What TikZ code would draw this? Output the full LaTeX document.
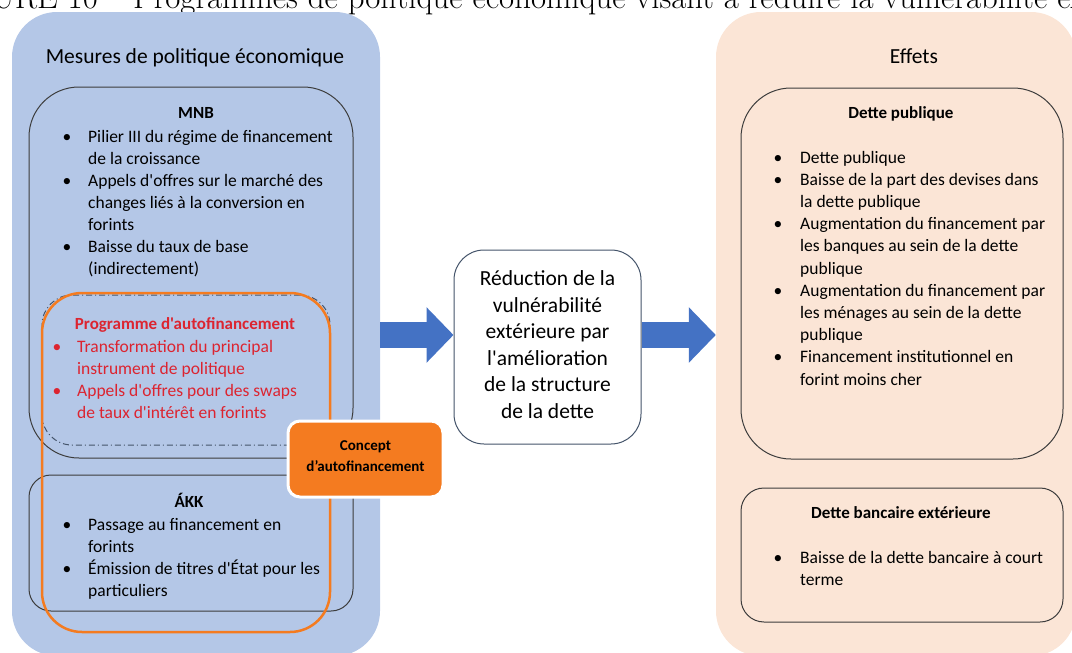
\documentclass[tikz,border=0pt]{standalone}
\usepackage{fontspec}
\newfontfamily\calib{Carlito}
\usetikzlibrary{arrows.meta}
\definecolor{bleuclair}{HTML}{B4C7E7}
\definecolor{peche}{HTML}{FBE5D6}
\definecolor{orangevif}{HTML}{F47B20}
\definecolor{rougetxt}{HTML}{DC2430}
\definecolor{bleufleche}{HTML}{4472C4}
\definecolor{ardoise}{HTML}{44546A}
\definecolor{cadre}{HTML}{3C3C3C}
\begin{document}
\begin{tikzpicture}[x=1pt,y=-1pt,
    panneau/.style={inner sep=0pt,rounded corners=45pt},
    cadrenoir/.style={draw=cadre,line width=1pt,inner sep=0pt},
    txt/.style={inner sep=0pt,font=\calib\fontsize{17.5}{22.2}\selectfont},
    item/.style={txt,anchor=base west,align=left},
    puce/.style={txt,anchor=base},
    entete/.style={txt,anchor=base,font=\calib\bfseries\fontsize{17}{22.2}\selectfont},
    grosse/.style={line width=26pt,draw=bleufleche,-{Triangle[width=54pt,length=27pt]}}]
                \useasboundingbox (0,0) rectangle (1072,653) ;
                \clip (0,0) rectangle (1072,653) ;
                % legende coupee en haut
                \node[anchor=base west,inner sep=0pt,font=\fontsize{32.8}{34}\selectfont] (legende) at (133,9) {Programmes de politique économique visant à réduire la vulnérabilité extérieure} ;
                \node[anchor=base east,inner sep=0pt,font=\fontsize{32.8}{34}\selectfont] (numero) at ([xshift=-10pt]legende.base west) {FIGURE 10 –} ;
                % les deux panneaux
                \node[panneau,fill=bleuclair,minimum width=368pt,minimum height=644pt] (mesures) at (196,334) {} ;
                \node[panneau,fill=peche,minimum width=360pt,minimum height=644pt] (effets) at (896,334) {} ;
                \node[txt,anchor=base,font=\calib\fontsize{21.5}{26}\selectfont] (titreg) at (195,63) {Mesures de politique économique} ;
                \node[txt,anchor=base,font=\calib\fontsize{21.5}{26}\selectfont] (titred) at (914,63) {Effets} ;
                % cadres de gauche
                \node[cadrenoir,rounded corners=50pt,minimum width=324pt,minimum height=371pt] (mnb) at (191,272.5) {} ;
                \node[draw=ardoise,line width=1pt,dash pattern=on 6pt off 3pt on 1pt off 3pt,rounded corners=30pt,inner sep=0pt,minimum width=288pt,minimum height=150pt] (autoprog) at (186,370) {} ;
                \node[cadrenoir,rounded corners=22pt,minimum width=324pt,minimum height=136pt] (akk) at (191,543) {} ;
                \node[draw=orangevif,line width=2.5pt,rounded corners=40pt,inner sep=0pt,minimum width=288pt,minimum height=339pt] (tour) at (186,462.5) {} ;
                \node[draw=white,line width=3pt,fill=orangevif,rounded corners=12pt,minimum width=155pt,minimum height=76pt,align=center,inner sep=0pt,font=\calib\bfseries\fontsize{15}{21}\selectfont] (concept) at (365.5,459) {} ;
                \node[anchor=base,align=center,inner sep=0pt,font=\calib\bfseries\fontsize{15}{21}\selectfont] (tconcept) at (365.5,471) {Concept\\d’autofinancement} ;
                % MNB
                \node[entete] (tmnb) at (196,118) {MNB} ;
                \node[puce] (pm1) at (67,142) {\textbullet} ;
                \node[item] (im1) at (88,164.2) {Pilier III du régime de financement\\de la croissance} ;
                \node[puce] (pm2) at (67,186) {\textbullet} ;
                \node[item] (im2) at (88,230.4) {Appels d'offres sur le marché des\\changes liés à la conversion en\\forints} ;
                \node[puce] (pm3) at (67,252) {\textbullet} ;
                \node[item] (im3) at (88,274.2) {Baisse du taux de base\\(indirectement)} ;
                % programme
                \node[entete,text=rougetxt] (tprog) at (185,329) {Programme d'autofinancement} ;
                \node[puce,text=rougetxt] (pp1) at (57,352) {\textbullet} ;
                \node[item,text=rougetxt] (ip1) at (77,374.2) {Transformation du principal\\instrument de politique} ;
                \node[puce,text=rougetxt] (pp2) at (57,396) {\textbullet} ;
                \node[item,text=rougetxt] (ip2) at (77,418.2) {Appels d'offres pour des swaps\\de taux d'intérêt en forints} ;
                % AKK
                \node[entete] (takk) at (189,507) {ÁKK} ;
                \node[puce] (pa1) at (67,530) {\textbullet} ;
                \node[item] (ia1) at (88,552.2) {Passage au financement en\\forints} ;
                \node[puce] (pa2) at (67,574) {\textbullet} ;
                \node[item] (ia2) at (88,596.2) {Émission de titres d'État pour les\\particuliers} ;
                % milieu
                \node[draw=ardoise,fill=white,line width=1pt,rounded corners=30pt,minimum width=187pt,minimum height=194pt,inner sep=0pt] (reduction) at (547.5,347) {} ;
                \node[txt,anchor=base,align=center,font=\calib\fontsize{21.5}{26.6}\selectfont] (treduc) at (547.5,418.5) {Réduction de la\\vulnérabilité\\extérieure par\\l'amélioration\\de la structure\\de la dette} ;
                % fleches
                \draw[grosse] (mesures.east |- 0,335) -- (reduction.west |- 0,335) ;
                \draw[grosse] (reduction.east |- 0,335) -- (effets.west |- 0,335) ;
                % effets
                \node[cadrenoir,rounded corners=50pt,minimum width=322pt,minimum height=371pt] (dettepub) at (902,273.5) {} ;
                \node[cadrenoir,rounded corners=23pt,minimum width=322pt,minimum height=134pt] (dettebanc) at (902,555) {} ;
                \node[entete] (tpub) at (901,118) {Dette publique} ;
                \node[puce] (pd1) at (778,163) {\textbullet} ;
                \node[item] (id1) at (800,163) {Dette publique} ;
                \node[puce] (pd2) at (778,185.2) {\textbullet} ;
                \node[item] (id2) at (800,207.4) {Baisse de la part des devises dans\\la dette publique} ;
                \node[puce] (pd3) at (778,229.6) {\textbullet} ;
                \node[item] (id3) at (800,274) {Augmentation du financement par\\les banques au sein de la dette\\publique} ;
                \node[puce] (pd4) at (778,296.2) {\textbullet} ;
                \node[item] (id4) at (800,340.6) {Augmentation du financement par\\les ménages au sein de la dette\\publique} ;
                \node[puce] (pd5) at (778,362.8) {\textbullet} ;
                \node[item] (id5) at (800,385) {Financement institutionnel en\\forint moins cher} ;
                \node[entete] (tbanc) at (901,518) {Dette bancaire extérieure} ;
                \node[puce] (pb1) at (778,563) {\textbullet} ;
                \node[item] (ib1) at (800,585.2) {Baisse de la dette bancaire à court\\terme} ;
\end{tikzpicture}
\end{document}
